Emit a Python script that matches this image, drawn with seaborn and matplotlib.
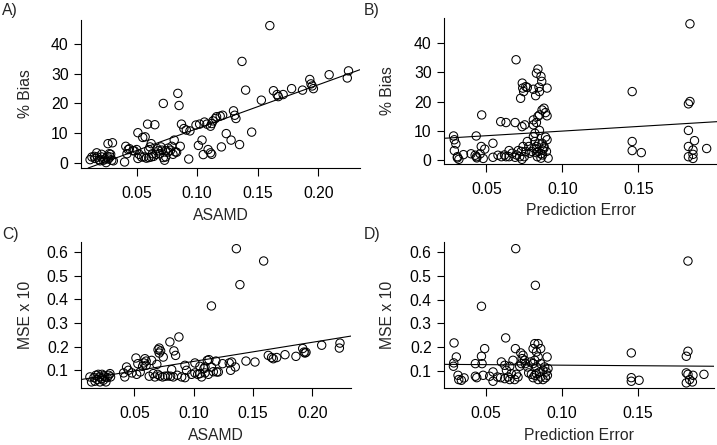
import numpy as np
import pandas as pd
import seaborn as sns
import matplotlib
matplotlib.use("Agg")
import matplotlib.pyplot as plt
from matplotlib.ticker import FormatStrFormatter

# Panel A: ASAMD vs % Bias
asamd_a = [0.160, 0.137, 0.140, 0.084, 0.085, 0.072, 0.059, 0.065, 0.087, 0.051,
           0.055, 0.057, 0.089, 0.091, 0.094, 0.099, 0.102, 0.106, 0.108, 0.111,
           0.112, 0.113, 0.115, 0.116, 0.119, 0.121, 0.130, 0.131, 0.132, 0.124,
           0.128, 0.135, 0.145, 0.101, 0.104, 0.105, 0.109, 0.111, 0.112, 0.120,
           0.153, 0.163, 0.166, 0.167, 0.171, 0.178, 0.187, 0.193, 0.194, 0.195,
           0.196, 0.209, 0.225, 0.224, 0.093, 0.040,
           0.0115, 0.013, 0.0156, 0.017, 0.0175, 0.019, 0.0197, 0.021, 0.0225, 0.0238,
           0.0247, 0.0258, 0.0266, 0.0274, 0.028, 0.0294, 0.0307, 0.0263, 0.030, 0.0285,
           0.021, 0.015,
           0.041, 0.043, 0.044, 0.042, 0.047, 0.050, 0.052, 0.051, 0.054, 0.058,
           0.060, 0.062, 0.063, 0.064, 0.066, 0.068, 0.069, 0.071, 0.072, 0.073,
           0.074, 0.076, 0.076, 0.078, 0.079, 0.081, 0.082, 0.086, 0.083, 0.080,
           0.074, 0.061, 0.060, 0.062, 0.067, 0.070, 0.048, 0.056]
bias_a = [46.3, 34.2, 24.5, 23.4, 19.3, 20.0, 13.0, 12.8, 13.0, 10.1,
          8.5, 8.7, 11.5, 11.0, 10.7, 12.7, 13.0, 13.7, 13.0, 12.3,
          13.2, 14.1, 14.9, 15.5, 15.7, 16.0, 17.5, 16.0, 14.9, 9.8,
          7.6, 6.1, 10.3, 5.8, 7.6, 2.7, 4.4, 3.3, 2.8, 5.3,
          21.1, 24.3, 23.0, 22.3, 23.0, 25.0, 24.5, 28.1, 26.6, 25.9,
          25.0, 29.7, 31.0, 28.6, 1.2, 0.2,
          1.0, 1.9, 1.4, 3.3, 1.9, 1.0, 0.6, 1.9, 0.8, 1.2,
          0.0, 2.1, 1.2, 3.0, 1.9, 0.8, 0.6, 6.4, 6.7, 2.8,
          2.8, 2.1,
          5.5, 4.4, 4.7, 3.0, 4.0, 4.4, 2.8, 1.4, 1.9, 1.5,
          1.7, 1.9, 3.0, 2.1, 2.8, 4.0, 3.0, 4.2, 1.7, 0.8,
          1.9, 4.9, 3.6, 4.2, 5.5, 7.6, 3.6, 5.5, 3.5, 2.8,
          4.0, 5.3, 4.4, 6.4, 4.7, 5.3, 4.0, 1.9]

# Panel B: Prediction Error vs % Bias
pe_b = [0.184, 0.0696, 0.146, 0.184, 0.183, 0.183, 0.146, 0.146, 0.152, 0.183,
        0.187, 0.186, 0.186, 0.186, 0.183, 0.195, 0.0285, 0.029, 0.030, 0.029,
        0.031, 0.032, 0.031, 0.035, 0.0434, 0.0436, 0.0438, 0.047, 0.0467, 0.049,
        0.048, 0.046, 0.0544, 0.0544, 0.0577, 0.060, 0.062, 0.063, 0.0595, 0.063,
        0.069, 0.065, 0.067, 0.069, 0.070, 0.072, 0.073, 0.0735, 0.0726, 0.0737,
        0.074, 0.0746, 0.076, 0.077, 0.0753, 0.0742, 0.0735, 0.075, 0.076, 0.081,
        0.0825, 0.083, 0.084, 0.086, 0.0865, 0.085, 0.0847, 0.081, 0.081, 0.083,
        0.084, 0.085, 0.0867, 0.088, 0.089, 0.090, 0.090, 0.081, 0.082, 0.083,
        0.084, 0.086, 0.087, 0.088, 0.0896, 0.0907, 0.090, 0.089, 0.082, 0.085,
        0.0815, 0.080, 0.0786, 0.0836, 0.086, 0.087, 0.0867, 0.088, 0.0845, 0.083,
        0.078, 0.077, 0.040, 0.0427, 0.065, 0.071]
bias_b = [46.6, 34.3, 23.4, 20.0, 19.2, 10.1, 6.3, 3.2, 2.5, 4.6,
          6.6, 3.4, 1.9, 0.5, 1.1, 3.9, 8.2, 6.9, 5.5, 3.2,
          0.7, 0.2, 1.1, 1.8, 8.2, 1.1, 0.7, 15.4, 4.6, 3.7,
          0.5, 2.1, 5.7, 0.9, 1.6, 1.1, 1.7, 1.1, 13.1, 12.8,
          12.8, 3.2, 2.3, 0.9, 1.7, 1.1, 2.9, 11.4, 21.1, 26.3,
          24.6, 23.4, 25.1, 24.8, 12.0, 4.6, 0.2, 1.1, 2.9, 24.2,
          22.0, 29.7, 31.1, 28.6, 26.9, 23.4, 24.9, 13.7, 12.0, 12.8,
          14.9, 15.4, 17.1, 17.7, 16.2, 15.1, 24.6, 8.0, 6.3, 4.6,
          2.9, 2.1, 3.4, 4.6, 2.9, 0.6, 6.9, 7.8, 9.1, 10.1,
          4.0, 2.9, 2.3, 1.1, 0.6, 1.7, 5.7, 4.0, 5.5, 2.5,
          4.6, 6.3, 2.1, 1.6, 1.1, 3.2]

# Panel C: ASAMD vs MSE x 10
asamd_c = [0.136, 0.159, 0.139, 0.115, 0.0876, 0.080, 0.0834, 0.0848, 0.071, 0.0722,
           0.071, 0.070, 0.0744, 0.059, 0.0514, 0.060, 0.058, 0.060, 0.057, 0.053,
           0.069, 0.0646, 0.0435, 0.045, 0.041, 0.042, 0.048, 0.052, 0.055,
           0.0126, 0.014, 0.016, 0.0177, 0.0188, 0.0205, 0.0225, 0.0228, 0.0239, 0.0253,
           0.0261, 0.0272, 0.0284, 0.0295, 0.030, 0.0169, 0.0211, 0.0197, 0.0244,
           0.0626, 0.066, 0.0674, 0.0697, 0.0716, 0.0739, 0.0758, 0.0781, 0.0806, 0.0829,
           0.0862, 0.0899, 0.0927, 0.0983, 0.1011, 0.1034, 0.1053, 0.1067, 0.1096, 0.1124,
           0.1166, 0.1194,
           0.0927, 0.1011, 0.1053, 0.1096, 0.1115, 0.1129, 0.1188, 0.1208, 0.1244, 0.130,
           0.1312, 0.132, 0.1351, 0.1441, 0.1517, 0.1629, 0.1657, 0.1671, 0.170, 0.177,
           0.1862, 0.1919, 0.193, 0.1938, 0.1947, 0.2079, 0.2233, 0.2228,
           0.0815, 0.094, 0.1087, 0.115]
mse_c = [0.614, 0.562, 0.462, 0.372, 0.241, 0.220, 0.182, 0.163, 0.194, 0.182,
         0.173, 0.187, 0.156, 0.149, 0.152, 0.139, 0.131, 0.121, 0.117, 0.128,
         0.125, 0.142, 0.114, 0.100, 0.089, 0.072, 0.089, 0.083, 0.093,
         0.072, 0.051, 0.069, 0.079, 0.061, 0.072, 0.065, 0.083, 0.058, 0.072,
         0.051, 0.069, 0.079, 0.086, 0.072, 0.054, 0.051, 0.083, 0.077,
         0.075, 0.086, 0.072, 0.083, 0.076, 0.072, 0.075, 0.076, 0.075, 0.072,
         0.079, 0.072, 0.069, 0.083, 0.089, 0.083, 0.086, 0.072, 0.089, 0.083,
         0.094, 0.093,
         0.121, 0.131, 0.117, 0.114, 0.142, 0.145, 0.139, 0.093, 0.128, 0.131,
         0.100, 0.135, 0.114, 0.139, 0.135, 0.163, 0.154, 0.149, 0.154, 0.166,
         0.159, 0.192, 0.177, 0.173, 0.176, 0.206, 0.215, 0.194,
         0.103, 0.100, 0.107, 0.114]

# Panel D: Prediction Error vs MSE x 10
pe_d = [0.0697, 0.1828, 0.0826, 0.0472, 0.0631, 0.0292, 0.0493, 0.0695, 0.0472, 0.0307,
        0.029, 0.0288, 0.0432, 0.0476, 0.1456, 0.1828, 0.1817, 0.1456, 0.1456, 0.1507,
        0.1817, 0.1828, 0.1861, 0.1839, 0.1857, 0.1817, 0.1933, 0.0318, 0.0323, 0.034,
        0.0358, 0.0432, 0.0441, 0.0483, 0.0548, 0.0548, 0.0577, 0.0598, 0.0603, 0.0625,
        0.0636, 0.0647, 0.0658, 0.0668, 0.0679, 0.069, 0.0701, 0.0712, 0.073, 0.0739,
        0.0745, 0.0756, 0.076, 0.0734, 0.0723, 0.0811, 0.0822, 0.0844, 0.0861, 0.0833,
        0.0844, 0.0822, 0.0811, 0.0833, 0.0861, 0.0876, 0.0887, 0.0898, 0.0905, 0.0892,
        0.0861, 0.0822, 0.0811, 0.0844, 0.0876, 0.0903, 0.0909, 0.0854, 0.0833, 0.080,
        0.0782, 0.0774, 0.0795, 0.0658, 0.0526, 0.0625]
mse_d = [0.614, 0.562, 0.460, 0.372, 0.239, 0.218, 0.194, 0.194, 0.162, 0.159,
         0.134, 0.120, 0.131, 0.131, 0.176, 0.183, 0.162, 0.072, 0.057, 0.061,
         0.092, 0.086, 0.082, 0.064, 0.054, 0.050, 0.086, 0.082, 0.064, 0.061,
         0.071, 0.078, 0.072, 0.082, 0.096, 0.057, 0.075, 0.072, 0.138, 0.124,
         0.103, 0.075, 0.120, 0.089, 0.145, 0.064, 0.086, 0.075, 0.176, 0.152,
         0.166, 0.145, 0.131, 0.131, 0.120, 0.194, 0.215, 0.215, 0.194, 0.180,
         0.159, 0.145, 0.131, 0.117, 0.131, 0.103, 0.117, 0.096, 0.082, 0.072,
         0.075, 0.082, 0.072, 0.064, 0.064, 0.159, 0.110, 0.096, 0.089, 0.086,
         0.092, 0.117, 0.138, 0.064, 0.078, 0.068]

# fitted lines: (intercept, slope)
fit_a = (-3.3, 148.0)
fit_b = (6.7, 31.7)
fit_c = (0.0568, 0.808)
fit_d = (0.129, -0.045)

sns.set_style("ticks")
plt.rcParams['font.family'] = ['Liberation Sans', 'DejaVu Sans']
fs = 11.3

fig = plt.figure(figsize=(7.17, 4.45), dpi=100)
W, H = 717, 445

def make_ax(left, right, top, bottom):
    return fig.add_axes([left / W, 1 - bottom / H, (right - left) / W, (bottom - top) / H])

panels = [
    dict(box=(81, 360, 20, 168), x=asamd_a, y=bias_a, fit=fit_a, xlim=(0.004, 0.2345), ylim=(-1.83, 48.2),
         xt=[0.05, 0.10, 0.15, 0.20], yt=[0, 10, 20, 30, 40], yf='%d', xl='ASAMD', yl='% Bias', tag='A)', tagpos=(2, 10)),
    dict(box=(444, 717, 18, 164), x=pe_b, y=bias_b, fit=fit_b, xlim=(0.0222, 0.2018), ylim=(-1.4, 48.6),
         xt=[0.05, 0.10, 0.15], yt=[0, 10, 20, 30, 40], yf='%d', xl='Prediction Error', yl='% Bias', tag='B)', tagpos=(364, 11)),
    dict(box=(81, 351, 242, 388), x=asamd_c, y=mse_c, fit=fit_c, xlim=(0.0051, 0.2326), ylim=(0.0252, 0.6423),
         xt=[0.05, 0.10, 0.15, 0.20], yt=[0.1, 0.2, 0.3, 0.4, 0.5, 0.6], yf='%.1f', xl='ASAMD', yl='MSE x 10', tag='C)', tagpos=(2, 234)),
    dict(box=(444, 714, 242, 388), x=pe_d, y=mse_d, fit=fit_d, xlim=(0.0226, 0.1999), ylim=(0.0286, 0.642),
         xt=[0.05, 0.10, 0.15], yt=[0.1, 0.2, 0.3, 0.4, 0.5, 0.6], yf='%.1f', xl='Prediction Error', yl='MSE x 10', tag='D)', tagpos=(364, 234)),
]

for p in panels:
    l, r, t, b = p['box']
    ax = make_ax(l, r, t, b)
    df = pd.DataFrame({'x': p['x'], 'y': p['y']})
    sns.scatterplot(data=df, x='x', y='y', ax=ax, s=36, color='none', edgecolor='black', linewidth=0.75, zorder=3)
    ax.collections[-1].set_facecolor('none')
    b0, b1 = p['fit']
    ax.axline((0, b0), slope=b1, color='black', lw=0.8, zorder=2)
    ax.set_xlim(*p['xlim'])
    ax.set_ylim(*p['ylim'])
    ax.set_xticks(p['xt'])
    ax.set_yticks(p['yt'])
    ax.xaxis.set_major_formatter(FormatStrFormatter('%.2f'))
    ax.yaxis.set_major_formatter(FormatStrFormatter(p['yf']))
    ax.tick_params(axis='both', length=5.4, width=0.8, labelsize=fs, colors='black')
    ax.tick_params(axis='x', pad=7.5)
    ax.tick_params(axis='y', pad=3.5)
    for s in ['top', 'right']:
        ax.spines[s].set_visible(False)
    for s in ['left', 'bottom']:
        ax.spines[s].set_linewidth(0.8)
        ax.spines[s].set_color('black')
    ax.set_xlabel(p['xl'], fontsize=fs, va='center')
    ax.set_ylabel(p['yl'], fontsize=fs, va='center')
    ax.xaxis.set_label_coords(0.5, -47 / (b - t))
    ax.yaxis.set_label_coords(-56 / (r - l), 0.5)
    fig.text(p['tagpos'][0] / W, 1 - p['tagpos'][1] / H, p['tag'], fontsize=fs, ha='left', va='center')

fig.savefig('out.png', dpi=100)
